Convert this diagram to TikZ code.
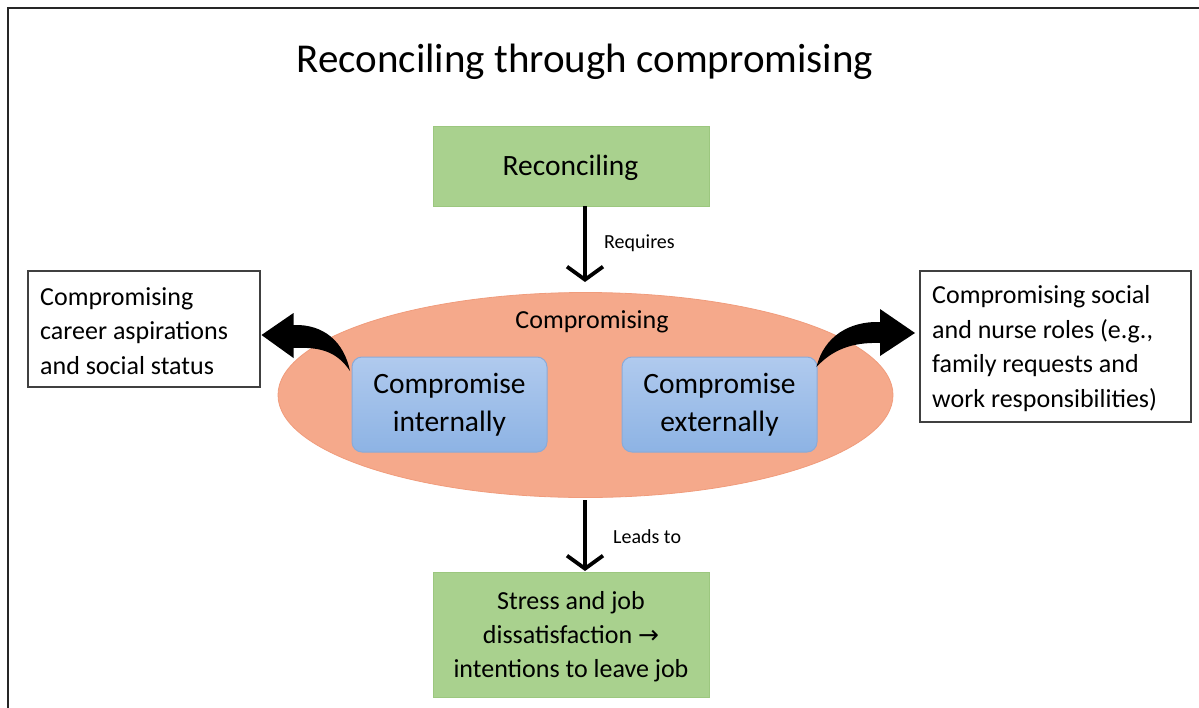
\documentclass[tikz,border=0pt]{standalone}
\usepackage{fontspec}
\setmainfont{Carlito}
\newfontfamily\arrowfont{DejaVu Sans}
\usetikzlibrary{shapes.geometric,arrows.meta}
\definecolor{greenbox}{HTML}{A9D18E}
\definecolor{greenedge}{HTML}{9CC77F}
\definecolor{salmon}{HTML}{F5A98B}
\definecolor{salmonedge}{HTML}{F09C7C}
\definecolor{bluetop}{HTML}{B0CAEE}
\definecolor{bluebot}{HTML}{8DB3E4}
\definecolor{blueedge}{HTML}{8AAAD8}
\definecolor{boxedge}{HTML}{404040}
\tikzset{
  greenstep/.style={fill=greenbox, draw=greenedge, line width=0.6pt, inner sep=0pt, align=center,
    font=\fontsize{26}{34}\selectfont},
  bluebox/.style={rounded corners=10pt, top color=bluetop, bottom color=bluebot, draw=blueedge,
    line width=1pt, inner sep=0pt, align=center, font=\fontsize{29.5}{38}\selectfont},
  sidebox/.style={draw=boxedge, line width=1.3pt, fill=white, inner sep=0pt},
  sidetext/.style={anchor=west, align=left, inner sep=0pt, font=\fontsize{26}{34.5}\selectfont},
  downarrow/.style={line width=3.8pt, -{Straight Barb[length=13pt,width=36pt]}},
  lbl/.style={inner sep=0pt, font=\fontsize{20}{24}\selectfont},
  bigarrow/.style={fill=black, draw=none}
}
\begin{document}
\begin{tikzpicture}[x=1pt,y=-1pt]
\useasboundingbox (0,0) rectangle (1199,707);
% frame
\draw[line width=2.5pt, black!85] (8,720) -- (8,8) -- (1210,8);
% title
\node[inner sep=0pt, font=\fontsize{41}{48}\selectfont] (title) at (585,62) {Reconciling through compromising};
% ellipse
\node[ellipse, fill=salmon, draw=salmonedge, line width=0.8pt, minimum width=615pt, minimum height=205pt, inner sep=0pt] (ell) at (585.5,395) {};
\node[inner sep=0pt, font=\fontsize{26}{30}\selectfont] (elltext) at (592,322) {Compromising};
% blue boxes
\node[bluebox, minimum width=195pt, minimum height=95pt] (cint) at (449.5,404.5) {Compromise\\internally};
\node[bluebox, minimum width=195pt, minimum height=95pt] (cext) at (719.5,404.5) {Compromise\\externally};
% green boxes
\node[greenstep, minimum width=276pt, minimum height=80pt] (recon) at (571,166) {};
\node[inner sep=0pt, font=\fontsize{29.5}{36}\selectfont] (recontext) at (570.5,168) {Reconciling};
\node[greenstep, minimum width=276pt, minimum height=125pt] (stress) at (571,634.5) {};
\node[inner sep=0pt, align=center, font=\fontsize{26}{34}\selectfont] (stresstext) at (571,637) {Stress and job\\dissatisfaction {\arrowfont\fontsize{25}{26}\selectfont →}\\intentions to leave job};
% side boxes
\node[sidebox, minimum width=232pt, minimum height=116pt] (leftbox) at (144,329) {};
\node[sidetext] (lefttext) at (40,331) {Compromising\\career aspirations\\and social status};
\node[sidebox, minimum width=271pt, minimum height=151pt] (rightbox) at (1055.5,346.5) {};
\node[sidetext] (righttext) at (932,348.5) {Compromising social\\and nurse roles (e.g.,\\family requests and\\work responsibilities)};
% straight arrows
\coordinate (reqtop) at (585,206);
\coordinate (reqend) at (585,282);
\draw[downarrow] (reqtop) -- (reqend);
\node[lbl, anchor=west] (reqlbl) at (604,243) {Requires};
\coordinate (leadtop) at (585,500);
\coordinate (leadend) at (585,571);
\draw[downarrow] (leadtop) -- (leadend);
\node[lbl, anchor=west] (leadlbl) at (613,537) {Leads to};
% curved block arrows
\fill[bigarrow] (350,371) .. controls (336,350) and (318,347) .. (293.5,348)
  -- (293.5,358) -- (261.5,335) -- (293.5,313) -- (293.5,325)
  .. controls (324,324) and (344,342) .. (350,371) -- cycle;
\fill[bigarrow] (816.5,367) .. controls (824,336) and (850,321) .. (880,322)
  -- (880,309) -- (915,333) -- (880,356) -- (880,343)
  .. controls (852,342) and (832,350) .. (816.5,367) -- cycle;
\end{tikzpicture}
\end{document}
